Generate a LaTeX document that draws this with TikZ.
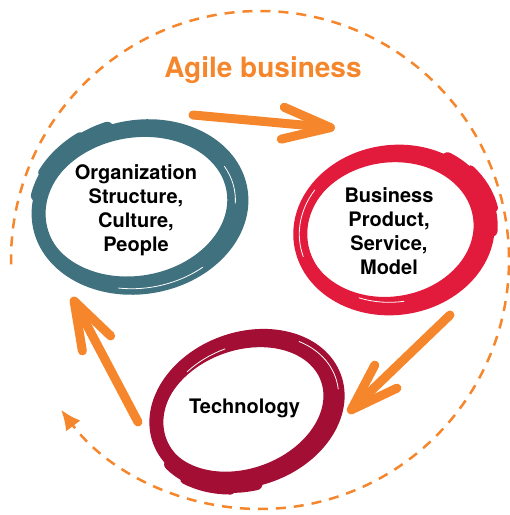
\documentclass[tikz,border=0pt]{standalone}
\usepackage{fontspec}
\setmainfont{TeX Gyre Heros}
\usetikzlibrary{arrows.meta}

\definecolor{agile}{HTML}{F5862B}
\definecolor{orgteal}{HTML}{40717F}
\definecolor{bizred}{HTML}{E21A3B}
\definecolor{techred}{HTML}{A30E34}

\tikzset{
brush/.style={line width=14pt},
streak/.style={white,line width=0.8pt,line cap=round},
flow/.style={agile,line width=9pt,line cap=round,-{Straight Barb[length=48pt,width=32pt,round]}},
ringtext/.style={font=\bfseries\fontsize{20}{24}\selectfont,align=center},
}

\providecommand{\BrushRing}[6]{
\begin{scope}[shift={(#1)},rotate=#5]
\draw[brush,#2] (0,0) ellipse [x radius=#3, y radius=#4];
\draw[brush,#2,line width=10pt] (-4,1) ellipse [x radius=#3-5, y radius=#4-6];
\draw[brush,#2,line width=12pt,line cap=round] ({(#3+4)*cos(#6)},{(#4+5)*sin(#6)}) arc [start angle=#6, end angle=#6+60, x radius=#3+4, y radius=#4+5];
\draw[brush,#2,line width=7pt,line cap=round] ({(#3+9)*cos(#6+15)},{(#4+9)*sin(#6+15)}) arc [start angle=#6+15, end angle=#6+45, x radius=#3+9, y radius=#4+9];
\draw[streak] ({(#3+1)*cos(#6+150)},{(#4+1)*sin(#6+150)}) arc [start angle=#6+150, end angle=#6+200, x radius=#3+1, y radius=#4+1];
\draw[streak] ({(#3-6)*cos(#6+250)},{(#4-6)*sin(#6+250)}) arc [start angle=#6+250, end angle=#6+280, x radius=#3-6, y radius=#4-6];
\end{scope}
}

\begin{document}
\begin{tikzpicture}[x=1pt,y=1pt]
\useasboundingbox (0,0) rectangle (510,515);

% outer loop
\draw[agile,line width=2.5pt,dash pattern=on 10pt off 8pt,-{Latex[length=20pt,width=18pt]}]
(260,255) ++(181:249) arc [start angle=181, end angle=-143, radius=249];
\node[font=\bfseries\fontsize{28}{32}\selectfont,text=agile,anchor=base] (title) at (263,437) {Agile business};

% rings
\BrushRing{140,308}{orgteal}{102}{80}{10}{100}
\BrushRing{394,285}{bizred}{94}{78}{8}{-10}
\BrushRing{247,106}{techred}{93}{70}{20}{200}

\node[ringtext] (org) at (136,305) {Organization\\Structure,\\Culture,\\People};
\node[ringtext] (biz) at (389,284) {Business\\Product,\\Service,\\Model};
\node[ringtext,anchor=base] (tech) at (244.5,101) {Technology};

% arrows
\coordinate (orgout) at (193,400);
\coordinate (bizin) at (335,387);
\coordinate (bizout) at (450,200);
\coordinate (techin) at (348,102);
\coordinate (techout) at (138,93);
\coordinate (orgin) at (72,218);
\draw[flow] (orgout) -- (bizin);
\draw[flow] (bizout) -- (techin);
\draw[flow] (techout) -- (orgin);
\end{tikzpicture}
\end{document}
